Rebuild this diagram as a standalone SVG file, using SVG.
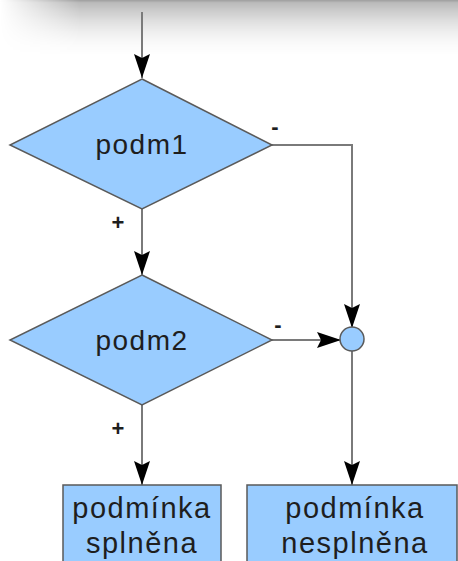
<svg xmlns="http://www.w3.org/2000/svg" width="458" height="561" viewBox="0 0 458 561">
  <defs>
    <style>
      .shape { fill: #99ccff; stroke: #5a5a5a; stroke-width: 1.5; }
      .wire { fill: none; stroke: #7a7a7a; stroke-width: 2; }
      .lbl { font-family: "Liberation Sans", Arial, sans-serif; fill: #1e1e1e; text-anchor: middle; }
      .cond { font-size: 28px; letter-spacing: 1.5px; }
      .box { font-size: 29px; letter-spacing: 1.5px; }
      .sign { font-size: 22px; font-weight: bold; }
    </style>
    <marker id="arrow" markerUnits="userSpaceOnUse" viewBox="0 0 24 16" markerWidth="24" markerHeight="16" refX="24" refY="8" orient="auto">
      <path d="M0,0 L24,8 L0,16 L4,8 Z" fill="#000"/>
    </marker>
    <linearGradient id="shadeV" x1="0" y1="0" x2="0" y2="1">
      <stop offset="0" stop-color="#000" stop-opacity="0.38"/>
      <stop offset="0.05" stop-color="#000" stop-opacity="0.27"/>
      <stop offset="0.2" stop-color="#000" stop-opacity="0.2"/>
      <stop offset="0.4" stop-color="#000" stop-opacity="0.12"/>
      <stop offset="0.6" stop-color="#000" stop-opacity="0.06"/>
      <stop offset="0.8" stop-color="#000" stop-opacity="0.02"/>
      <stop offset="1" stop-color="#000" stop-opacity="0"/>
    </linearGradient>
    <linearGradient id="fadeH" x1="0" y1="0" x2="1" y2="0">
      <stop offset="0" stop-color="#fff" stop-opacity="0"/>
      <stop offset="1" stop-color="#fff" stop-opacity="1"/>
    </linearGradient>
    <mask id="edgeMask" maskUnits="userSpaceOnUse" x="0" y="0" width="458" height="60">
      <rect x="0" y="0" width="80" height="60" fill="url(#fadeH)"/>
      <rect x="80" y="0" width="378" height="60" fill="#fff"/>
    </mask>
  </defs>

  <rect width="458" height="561" fill="#fff"/>
  <!-- soft shadow along the top edge -->
  <rect x="0" y="0" width="458" height="55" fill="url(#shadeV)" mask="url(#edgeMask)"/>

  <g id="connectors">
    <path class="wire" d="M142,12 L142,78" marker-end="url(#arrow)"/>
    <path class="wire" d="M142,208 L142,275" marker-end="url(#arrow)"/>
    <path class="wire" d="M272,145 L352,145 L352,328" marker-end="url(#arrow)"/>
    <path class="wire" d="M272,340 L341,340" marker-end="url(#arrow)"/>
    <path class="wire" d="M142,405 L142,485" marker-end="url(#arrow)"/>
    <path class="wire" d="M352,351 L352,485" marker-end="url(#arrow)"/>
    <text class="lbl sign" x="275" y="134">-</text>
    <text class="lbl sign" x="278" y="332">-</text>
    <text class="lbl sign" x="118" y="230">+</text>
    <text class="lbl sign" x="118" y="436">+</text>
  </g>

  <g id="podm1">
    <polygon class="shape" points="142,79 272,145 142,209 10,145"/>
    <text class="lbl cond" x="142" y="154">podm1</text>
  </g>

  <g id="podm2">
    <polygon class="shape" points="142,275 272,340 142,405 10,340"/>
    <text class="lbl cond" x="142" y="350">podm2</text>
  </g>

  <g id="join">
    <circle class="shape" cx="352" cy="339" r="12"/>
  </g>

  <g id="splnena">
    <rect class="shape" x="63" y="485" width="158" height="90"/>
    <text class="lbl box" x="142" y="518">podmínka</text>
    <text class="lbl box" x="142" y="553">splněna</text>
  </g>

  <g id="nesplnena">
    <rect class="shape" x="247" y="485" width="210" height="90"/>
    <text class="lbl box" x="355" y="518">podmínka</text>
    <text class="lbl box" x="355" y="553">nesplněna</text>
  </g>
</svg>
